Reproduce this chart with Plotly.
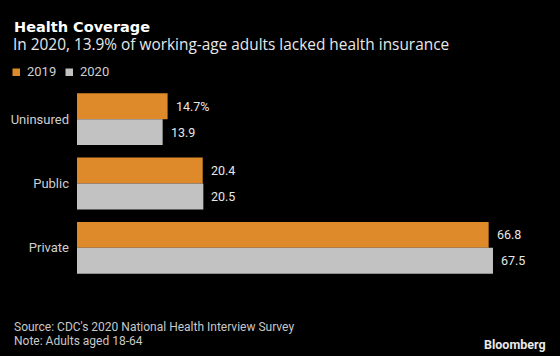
import plotly.graph_objects as go

categories = ["Uninsured", "Public", "Private"]
series_names = ["2019", "2020"]
values_2019 = [14.7, 20.4, 66.8]
values_2020 = [13.9, 20.5, 67.5]
labels_2019 = ["14.7%", "20.4", "66.8"]
labels_2020 = ["13.9", "20.5", "67.5"]

ORANGE = "#DF8A2A"
GREY = "#C2C2C2"
BG = "#000000"
FONT = "Roboto"

W, H = 560, 356
ML, MR, MT, MB = 77, 15, 87, 76
PW = W - ML - MR
PH = H - MT - MB


def px_x(px):
    return (px - ML) / PW


def px_y(py):
    return (H - MB - py) / PH


fig = go.Figure()
fig.add_trace(go.Bar(y=categories, x=values_2019, name=series_names[0], orientation="h",
                     marker=dict(color=ORANGE, line=dict(width=0)), showlegend=False))
fig.add_trace(go.Bar(y=categories, x=values_2020, name=series_names[1], orientation="h",
                     marker=dict(color=GREY, line=dict(width=0)), showlegend=False))

annotations = []
# value labels
for cat, v, lab in zip(categories, values_2019, labels_2019):
    annotations.append(dict(x=v, y=cat, text=lab, xref="x", yref="y", showarrow=False,
                            xanchor="left", yanchor="middle", xshift=6, yshift=13,
                            font=dict(family=FONT, size=12.5, color="#E8E8E8")))
for cat, v, lab in zip(categories, values_2020, labels_2020):
    annotations.append(dict(x=v, y=cat, text=lab, xref="x", yref="y", showarrow=False,
                            xanchor="left", yanchor="middle", xshift=6, yshift=-13,
                            font=dict(family=FONT, size=12.5, color="#E8E8E8")))

# title & subtitle
annotations.append(dict(x=px_x(12), y=px_y(27), xref="paper", yref="paper", showarrow=False,
                        text="<b>Health Coverage</b>", xanchor="left", yanchor="middle",
                        font=dict(family="DejaVu Sans", size=14.5, color="#FFFFFF")))
annotations.append(dict(x=px_x(11), y=px_y(45), xref="paper", yref="paper", showarrow=False,
                        text="In 2020, 13.9% of working-age adults lacked health insurance",
                        xanchor="left", yanchor="middle",
                        font=dict(family="Open Sans", size=15.4, color="#E8E8E8")))

# manual legend
shapes = []
leg_items = [(12.5, 25, ORANGE, series_names[0]), (65.5, 77.5, GREY, series_names[1])]
for sx, tx, col, name in leg_items:
    shapes.append(dict(type="rect", xref="paper", yref="paper",
                       x0=px_x(sx), x1=px_x(sx + 7.5), y0=px_y(68.5), y1=px_y(76),
                       fillcolor=col, line=dict(width=0)))
    annotations.append(dict(x=px_x(tx), y=px_y(72), xref="paper", yref="paper", showarrow=False,
                            text=name, xanchor="left", yanchor="middle",
                            font=dict(family=FONT, size=13, color="#CFCFCF")))

# footer
annotations.append(dict(x=px_x(12), y=px_y(327), xref="paper", yref="paper", showarrow=False,
                        text="Source: CDC's 2020 National Health Interview Survey",
                        xanchor="left", yanchor="middle",
                        font=dict(family=FONT, size=12, color="#C8C8C8")))
annotations.append(dict(x=px_x(12), y=px_y(340.5), xref="paper", yref="paper", showarrow=False,
                        text="Note: Adults aged 18-64",
                        xanchor="left", yanchor="middle",
                        font=dict(family=FONT, size=12, color="#C8C8C8")))
annotations.append(dict(x=px_x(548), y=px_y(344), xref="paper", yref="paper", showarrow=False,
                        text="<b>Bloomberg</b>", xanchor="right", yanchor="middle",
                        font=dict(family=FONT, size=12.5, color="#E8E8E8")))

fig.update_layout(
    width=W, height=H,
    margin=dict(l=ML, r=MR, t=MT, b=MB, pad=0),
    paper_bgcolor=BG, plot_bgcolor=BG,
    barmode="group", bargap=0.194, bargroupgap=0,
    showlegend=False,
    annotations=annotations, shapes=shapes,
    xaxis=dict(range=[0, 75.94], visible=False, fixedrange=True),
    yaxis=dict(autorange="reversed", showgrid=False, zeroline=False, showline=False,
               ticks="", ticklabelstandoff=7,
               tickfont=dict(family=FONT, size=13, color="#CFCFCF"), fixedrange=True),
    font=dict(family=FONT),
)

fig.write_html("out.html", config={"displayModeBar": False},
               post_script="document.body.style.margin='0';document.body.style.padding='0';document.body.style.background='#000';")
